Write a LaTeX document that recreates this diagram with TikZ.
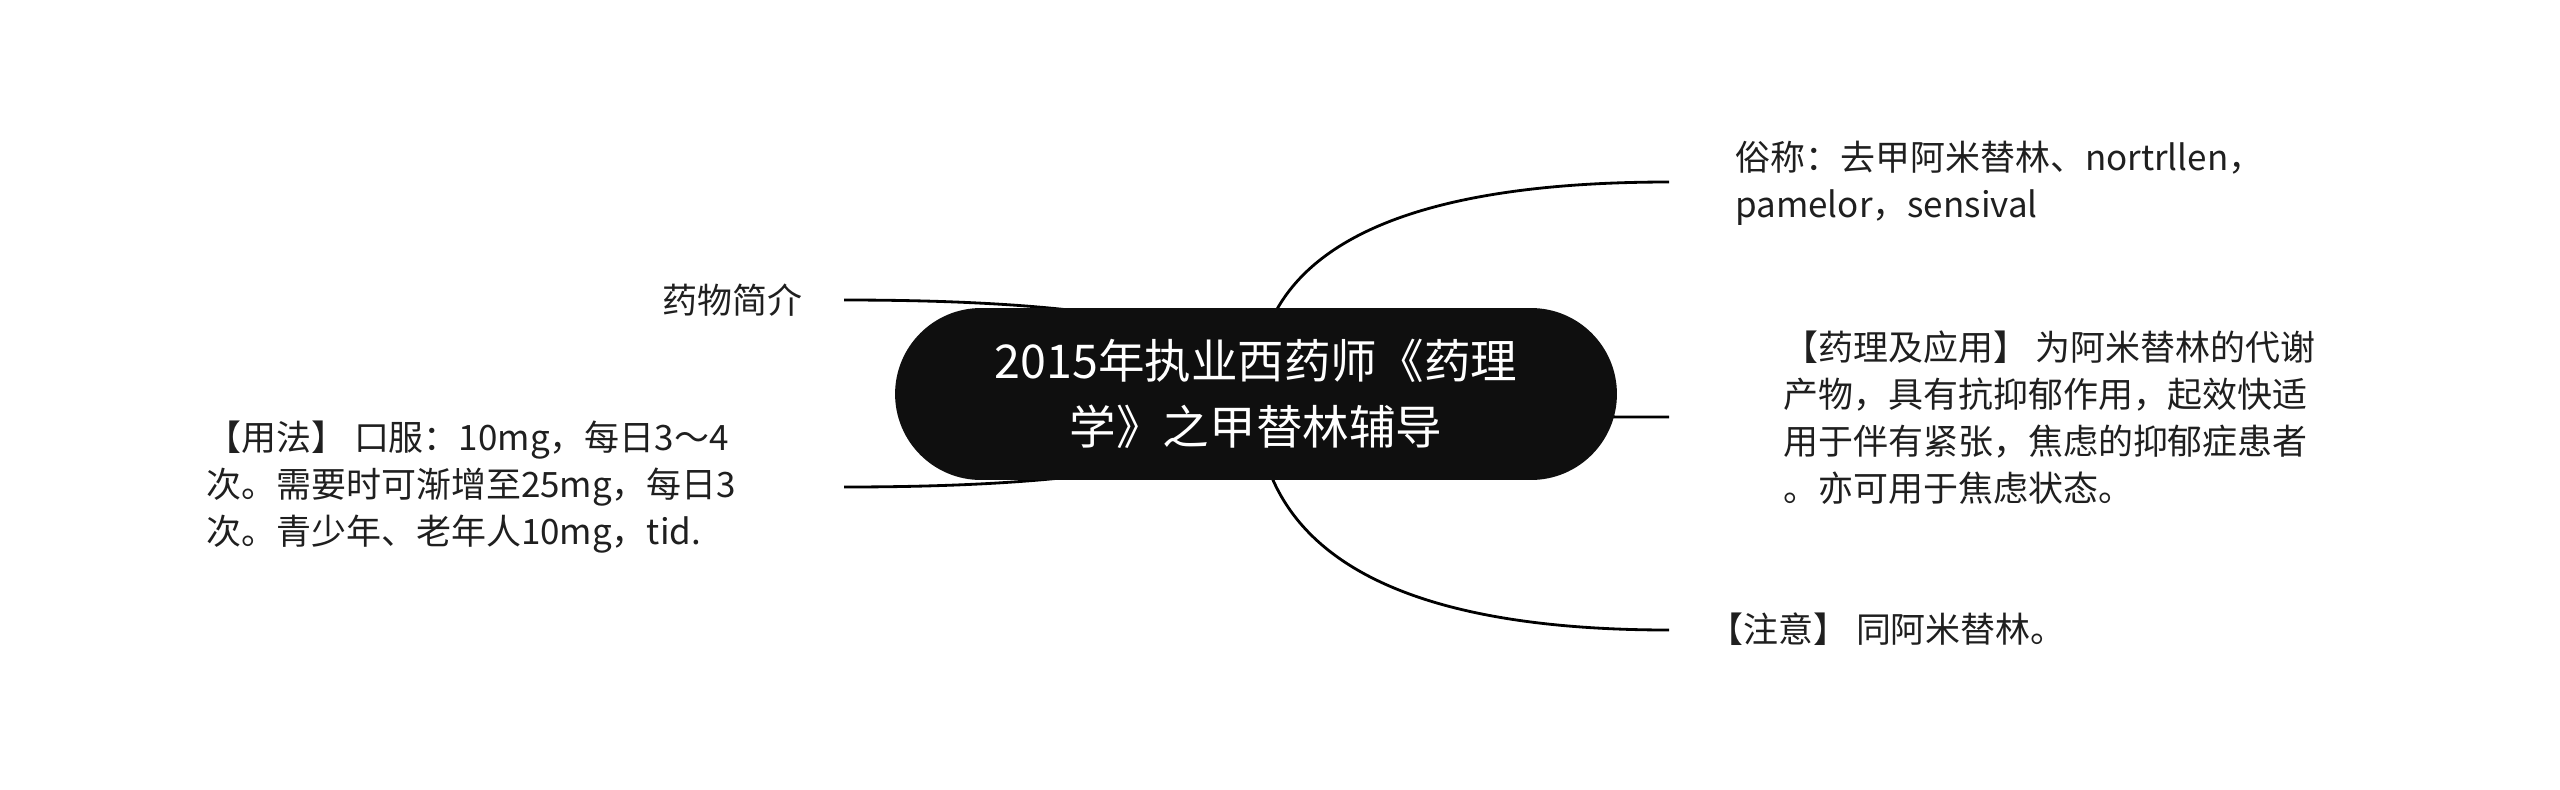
\documentclass[tikz,border=0pt]{standalone}
\usepackage{fontspec}
\setmainfont{Noto Sans CJK SC}
\usetikzlibrary{shapes.misc,backgrounds,calc}
\begin{document}
\begin{tikzpicture}[x=0.02cm,y=-0.02cm,
    root/.style={rounded rectangle,fill=black!94,text=white,minimum width=14.44cm,minimum height=3.44cm,inner sep=0pt,align=center,font=\fontsize{26.5}{37.6}\selectfont},
    leaf/.style={inner sep=0pt,align=left,text=black!88,font=\fontsize{19.9}{26.7}\selectfont},
    branch/.style={line width=1.6pt}]
\useasboundingbox (0,0) rectangle (2560,789);
\node[root] (root) at (1256,394) {2015年执业西药师《药理\\学》之甲替林辅导};
\node[leaf,anchor=west] (alias) at (1735,183) {俗称：去甲阿米替林、nortrllen，\\pamelor，sensival};
\node[leaf,anchor=west] (pharm) at (1783,418) {【药理及应用】 为阿米替林的代谢\\产物，具有抗抑郁作用，起效快适\\用于伴有紧张，焦虑的抑郁症患者\\。亦可用于焦虑状态。};
\node[leaf,anchor=west] (note) at (1708,629) {【注意】 同阿米替林。};
\node[leaf,anchor=east] (intro) at (803,300) {药物简介};
\node[leaf,anchor=west] (usage) at (206,487) {【用法】 口服：10mg，每日3～4\\次。需要时可渐增至25mg，每日3\\次。青少年、老年人10mg，tid.};
\coordinate (aliasend) at (1669,182);
\coordinate (pharmend) at (1669,417);
\coordinate (noteend) at (1669,630);
\coordinate (introend) at (844,300);
\coordinate (usageend) at (844,487);
\begin{scope}[on background layer]
\foreach \e in {aliasend,pharmend,noteend,introend,usageend}
{
    \draw[branch] (root.center) .. controls ($(root.center)!2/3!(root.center |- \e)$) and ($(\e)!2/3!(root.center |- \e)$) .. (\e);
}
\end{scope}
\end{tikzpicture}
\end{document}
